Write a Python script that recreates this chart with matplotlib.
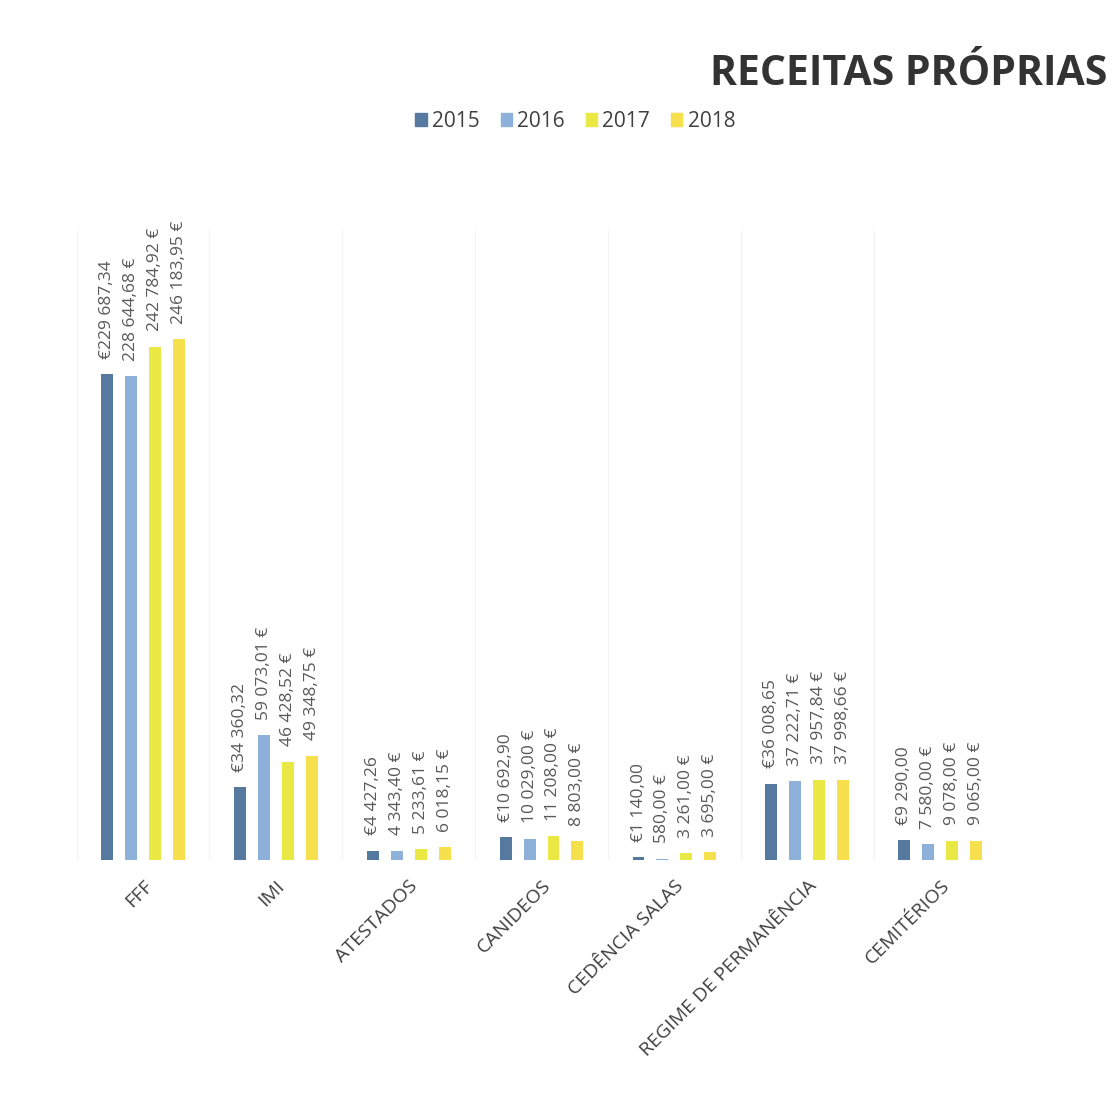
import matplotlib
matplotlib.use("Agg")
import matplotlib.pyplot as plt
import numpy as np
from matplotlib.patches import Patch

categories = ["FFF", "IMI", "ATESTADOS", "CANIDEOS", "CEDÊNCIA SALAS",
              "REGIME DE PERMANÊNCIA", "CEMITÉRIOS"]
years = ["2015", "2016", "2017", "2018"]
v2015 = [229687.34, 34360.32, 4427.26, 10692.90, 1140.00, 36008.65, 9290.00]
v2016 = [228644.68, 59073.01, 4343.40, 10029.00, 580.00, 37222.71, 7580.00]
v2017 = [242784.92, 46428.52, 5233.61, 11208.00, 3261.00, 37957.84, 9078.00]
v2018 = [246183.95, 49348.75, 6018.15, 8803.00, 3695.00, 37998.66, 9065.00]
series = [v2015, v2016, v2017, v2018]
colors = ["#56799f", "#8eb1d9", "#e9e845", "#f6e04e"]
title = "RECEITAS PRÓPRIAS"

plt.rcParams['font.family'] = ['Open Sans', 'DejaVu Sans']

def fmt(v, first):
    s = f"{v:,.2f}".replace(",", " ").replace(".", ",")
    return "€" + s if first else s + " €"

fig = plt.figure(figsize=(11.17, 11.01), dpi=100)
ax = fig.add_axes([0.0685, 0.219, 0.8326, 0.6084])
x = np.arange(len(categories))
slot = 0.18
width = 0.09
for i, (vals, c) in enumerate(zip(series, colors)):
    xs = x + (i - 1.5) * slot
    ax.bar(xs, vals, width=width, color=c, zorder=3)
    for xi, v in zip(xs, vals):
        ax.annotate(fmt(v, i == 0), (xi, v), xytext=(0, 11), textcoords="offset points",
                    rotation=90, ha="center", va="bottom", fontsize=12.5, color="#595959")

for b in np.arange(-0.5, len(categories) + 0.5, 1.0):
    ax.axvline(b, ymin=0, ymax=0.94, color="#f3f3f3", lw=0.8, zorder=0)

ax.set_xlim(-0.5, len(categories) - 0.5)
ax.set_ylim(0, 316800)
ax.set_yticks([])
ax.set_xticks(x)
ax.set_xticklabels(categories, rotation=45, ha="right", rotation_mode="anchor",
                   fontsize=14, color="#404040")
ax.tick_params(axis="x", length=0, pad=12)
for s in ax.spines.values():
    s.set_visible(False)

fig.text(0.991, 0.932, title, ha="right", va="center", fontsize=29.5,
         fontweight="bold", color="#333333")

handles = [Patch(color=c, label=y) for c, y in zip(colors, years)]
fig.legend(handles=handles, loc="center", bbox_to_anchor=(0.515, 0.89), ncol=4,
           frameon=False, fontsize=15, handlelength=0.55, handleheight=0.55,
           handletextpad=0.25, columnspacing=1.0, labelcolor="#404040")

fig.savefig("out.png", dpi=100)
